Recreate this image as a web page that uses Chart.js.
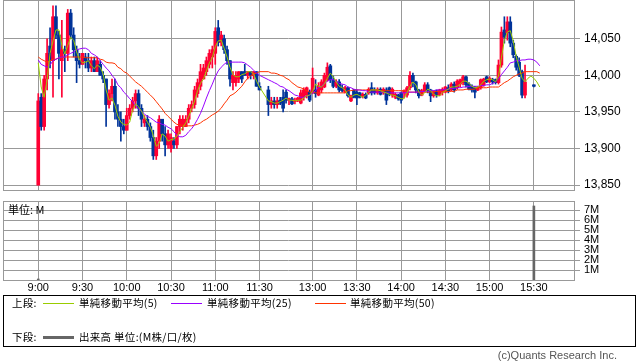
<!DOCTYPE html>
<html><head><meta charset="utf-8">
<script src="https://cdn.jsdelivr.net/npm/chart.js@4.4.1/dist/chart.umd.min.js"></script>
<style>
html,body{margin:0;padding:0;background:#fff;}
#wrap{position:relative;width:638px;height:362px;overflow:hidden;}
canvas{position:absolute;left:0;top:0;}
.t{position:absolute;white-space:nowrap;font-family:"Noto Sans CJK JP",sans-serif;font-size:10.5px;letter-spacing:0.3px;line-height:12px;color:#000;}
.ln{position:absolute;height:0;width:31px;border-top-style:solid;border-top-width:1px;}
#legend{position:absolute;left:3px;top:295px;width:633px;height:52px;border:1px solid #000;box-sizing:border-box;}
#copy{position:absolute;right:21px;top:349px;font-family:"Liberation Sans",Arial,sans-serif;font-size:11px;line-height:13px;color:#555;white-space:nowrap;}
</style>
</head><body>
<div id="wrap">
<canvas id="c1" width="638" height="362"></canvas>
<canvas id="c2" width="638" height="362"></canvas>
<div class="t" style="left:8px;top:203px;font-size:11px;letter-spacing:0;line-height:13px">単位: M</div>
<div id="legend"></div>
<div class="t" style="left:12px;top:297px">上段:</div>
<div class="ln" style="left:43px;top:303px;border-top-color:#99cc00"></div>
<div class="t" style="left:79px;top:297px">単純移動平均(5)</div>
<div class="ln" style="left:171px;top:303px;border-top-color:#9900ff"></div>
<div class="t" style="left:207px;top:297px">単純移動平均(25)</div>
<div class="ln" style="left:315px;top:303px;border-top-color:#ff3300"></div>
<div class="t" style="left:350px;top:297px">単純移動平均(50)</div>
<div class="t" style="left:12px;top:331px">下段:</div>
<div class="ln" style="left:43px;top:336px;border-top-width:3px;border-top-color:#666666"></div>
<div class="t" style="left:79px;top:331px">出来高 単位:(M株/口/枚)</div>
<div id="copy">(c)Quants Research Inc.</div>
</div>
<script>
// ---- data ----
const times = [
'9:00','9:02','9:04','9:06','9:08','9:10','9:12','9:14','9:16','9:18','9:20','9:22','9:24','9:26','9:28',
'9:30','9:32','9:34','9:36','9:38','9:40','9:42','9:44','9:46','9:48','9:50','9:52','9:54','9:56','9:58',
'10:00','10:02','10:04','10:06','10:08','10:10','10:12','10:14','10:16','10:18','10:20','10:22','10:24','10:26','10:28',
'10:30','10:32','10:34','10:36','10:38','10:40','10:42','10:44','10:46','10:48','10:50','10:52','10:54','10:56','10:58',
'11:00','11:02','11:04','11:06','11:08','11:10','11:12','11:14','11:16','11:18','11:20','11:22','11:24','11:26','11:28',
'11:30',
'12:30','12:32','12:34','12:36','12:38','12:40','12:42','12:44','12:46','12:48','12:50','12:52','12:54','12:56','12:58',
'13:00','13:02','13:04','13:06','13:08','13:10','13:12','13:14','13:16','13:18','13:20','13:22','13:24','13:26','13:28',
'13:30','13:32','13:34','13:36','13:38','13:40','13:42','13:44','13:46','13:48','13:50','13:52','13:54','13:56','13:58',
'14:00','14:02','14:04','14:06','14:08','14:10','14:12','14:14','14:16','14:18','14:20','14:22','14:24','14:26','14:28',
'14:30','14:32','14:34','14:36','14:38','14:40','14:42','14:44','14:46','14:48','14:50','14:52','14:54','14:56','14:58',
'15:00','15:02','15:04','15:06','15:08','15:10','15:12','15:14','15:16','15:18','15:20','15:22','15:24','15:26','15:28',
'15:30','15:32','15:34'];

const openP = [
13850,13970,13930,13995,14040,14020,14080,14055,14020,14035,14030,14085,14055,14035,14020,
14015,14025,14020,14010,14020,14005,14015,14000,13995,13960,13975,13985,13950,13940,13930,
13925,13945,13955,13965,13975,13955,13935,13940,13930,13915,13890,13910,13940,13920,13905,
13900,13910,13905,13930,13930,13930,13940,13955,13960,13975,13985,13995,14005,14015,14025,
14030,14065,14045,14050,14035,14020,13990,13990,13995,14005,14005,14000,14005,14000,14005,
13985,
13980,13960,13965,13960,13966,13970,13977,13966,13968,13964,13966,13962,13970,13973,13977,
13976,13980,13973,13980,13984,13994,14013,13994,13985,13991,13983,13977,13983,13965,13980,
13977,13976,13972,13974,13976,13983,13980,13976,13981,13976,13980,13983,13973,13970,13973,
13976,13976,13973,13983,14000,13991,13980,13973,13979,13987,13980,13972,13979,13973,13977,
13977,13983,13980,13988,13983,13988,13990,13998,13988,13985,13983,13980,13983,13987,13998,
13991,13994,13994,13990,14014,14062,14058,14073,14044,14026,14018,14005,13973,null,null,
13987,null,null];

const highP = [
13975,13975,14000,14050,14065,14095,14095,14060,14075,14040,14090,14090,14065,14040,14030,
14030,14030,14030,14025,14025,14025,14020,14005,13995,13980,13995,13995,13960,13950,13940,
13955,13960,13970,13980,13980,13960,13945,13945,13935,13925,13915,13945,13940,13930,13925,
13920,13915,13930,13945,13945,13945,13960,13965,13985,13995,14015,14015,14025,14035,14040,
14065,14075,14060,14055,14040,14020,14005,14005,14005,14005,14015,14005,14005,14005,14005,
13990,
13985,13970,13970,13970,13970,13980,13980,13969,13970,13969,13970,13980,13983,13984,13980,
14010,13994,13990,13994,14003,14017,14015,13999,13994,13994,13987,13985,13984,13973,13981,
13980,13977,13976,13976,13983,13990,13983,13983,13983,13983,13983,13984,13983,13976,13974,
13977,13980,13985,14005,14003,13992,13981,13981,13990,13990,13981,13979,13980,13981,13983,
13985,13987,13990,13991,13994,13995,14000,13999,13990,13987,13985,13985,13995,13996,13999,
13998,13996,13995,14021,14066,14080,14080,14080,14048,14028,14024,14007,14014,null,null,
13987,null,null];

const lowP = [
13850,13925,13925,13980,14010,13970,14050,13995,13970,14005,14020,14050,14025,13990,14010,
14015,14010,14005,14005,14005,14005,14000,13990,13930,13955,13965,13940,13930,13910,13920,
13925,13940,13950,13955,13945,13930,13930,13925,13910,13885,13885,13900,13910,13890,13900,
13895,13900,13900,13920,13925,13930,13935,13950,13955,13970,13980,13995,14000,14010,14010,
14015,14040,14040,14030,14015,13985,13980,13985,13990,13990,14000,13995,13995,13995,13985,
13980,
13945,13955,13955,13955,13960,13950,13962,13960,13960,13961,13964,13961,13966,13969,13964,
13975,13970,13972,13976,13983,13992,13990,13983,13983,13977,13977,13976,13970,13964,13969,
13960,13969,13969,13968,13974,13973,13974,13974,13973,13974,13960,13972,13970,13968,13966,
13962,13969,13970,13980,13984,13976,13969,13972,13977,13976,13964,13970,13970,13972,13973,
13976,13976,13979,13977,13981,13984,13987,13984,13980,13977,13969,13979,13981,13985,13990,
13990,13988,13988,13988,14011,14044,14048,14039,14024,14007,13998,13969,13969,null,null,
13984,null,null];

const closeP = [
13965,13930,13995,14030,14020,14080,14055,14030,14035,14030,14085,14055,14035,14020,14015,
14030,14020,14010,14020,14005,14020,14000,13995,13960,13975,13985,13950,13940,13930,13925,
13945,13955,13965,13975,13955,13940,13940,13930,13915,13890,13910,13940,13920,13905,13920,
13915,13905,13930,13940,13940,13940,13955,13960,13980,13990,14005,14010,14020,14030,14035,
14060,14045,14055,14035,14020,13995,14000,14000,14005,13995,14000,14005,14000,14005,13985,
13980,
13960,13965,13960,13965,13962,13955,13966,13968,13961,13966,13969,13976,13980,13983,13966,
13996,13975,13985,13991,14000,14011,13994,13985,13991,13980,13979,13983,13972,13972,13970,
13969,13970,13974,13969,13981,13976,13976,13981,13974,13981,13966,13974,13981,13974,13968,
13966,13979,13983,14000,13991,13980,13972,13979,13987,13979,13972,13977,13973,13980,13981,
13984,13979,13988,13980,13992,13994,13998,13987,13981,13980,13977,13984,13994,13995,13991,
13996,13991,13990,14014,14059,14052,14073,14044,14028,14011,14000,13973,13991,null,null,
13985,null,null];

const ma5 = [
14017,13984,13970,13994,14030,14047,14062,14062,14041,14029,14041,14052,14048,14032,14021,
14017,14018,14020,14013,14009,14014,14011,14002,13980,13966,13969,13959,13944,13936,13933,
13932,13936,13953,13961,13957,13951,13943,13936,13929,13918,13903,13907,13920,13917,13910,
13912,13913,13917,13923,13929,13935,13944,13954,13965,13979,13989,13995,14006,14017,14024,
14039,14047,14048,14037,14025,14011,14001,13998,13998,14001,14002,14005,14005,14002,13992,
13984,
13965,13964,13962,13962,13964,13966,13969,13966,13966,13965,13966,13966,13969,13972,13973,
13978,13988,13985,13984,13988,13996,14003,13998,13991,13985,13983,13980,13973,13970,13973,
13974,13972,13970,13973,13977,13980,13980,13980,13979,13977,13976,13974,13973,13972,13970,
13968,13968,13976,13985,13991,13987,13977,13973,13976,13981,13979,13974,13972,13972,13976,
13979,13981,13984,13984,13985,13988,13992,13992,13989,13985,13983,13984,13987,13992,13994,
13995,13994,13991,13999,14024,14048,14059,14061,14047,14026,14011,13996,13991,13996,13999,
13996,13991,13984];

const ma25 = [
14021,14015,14013,14011,14014,14020,14022,14024,14025,14025,14028,14030,14032,14035,14036,
14037,14037,14035,14030,14028,14025,14020,14015,14010,14006,14000,13995,13987,13983,13977,
13973,13968,13964,13958,13954,13951,13947,13944,13942,13939,13936,13935,13933,13932,13929,
13927,13923,13918,13916,13916,13918,13923,13927,13933,13940,13948,13958,13969,13979,13988,
13998,14006,14011,14015,14018,14018,14018,14018,14018,14018,14017,14014,14011,14007,14003,
14000,
13994,13992,13990,13988,13985,13984,13981,13979,13976,13973,13972,13970,13970,13972,13973,
13976,13979,13983,13985,13989,13992,13994,13994,13992,13989,13988,13987,13984,13983,13981,
13980,13980,13979,13979,13978,13977,13977,13977,13977,13977,13976,13976,13976,13976,13976,
13976,13976,13977,13977,13977,13977,13977,13978,13978,13978,13979,13979,13980,13980,13980,
13981,13981,13982,13982,13983,13983,13984,13984,13985,13985,13985,13985,13986,13986,13987,
13987,13989,13991,13995,14001,14006,14011,14017,14018,14020,14020,14021,14021,14022,14022,
14021,14018,14013];

const ma50 = [
14025,14022,14020,14018,14020,14022,14022,14024,14024,14025,14025,14025,14025,14025,14025,
14025,14024,14024,14024,14024,14024,14022,14021,14018,14017,14017,14016,14011,14009,14005,
14003,13999,13995,13991,13988,13985,13981,13977,13973,13969,13964,13959,13954,13948,13944,
13940,13936,13933,13932,13932,13931,13931,13931,13932,13933,13935,13938,13940,13943,13946,
13948,13951,13955,13961,13966,13972,13974,13977,13981,13985,13991,13996,13999,14002,14003,
14005,
14005,14003,14003,14002,14000,13999,13996,13994,13990,13987,13984,13983,13981,13979,13977,
13977,13976,13976,13976,13976,13976,13976,13976,13976,13976,13976,13976,13979,13979,13980,
13980,13980,13980,13980,13980,13980,13980,13980,13979,13979,13979,13979,13979,13979,13979,
13979,13979,13977,13977,13977,13977,13977,13977,13977,13977,13977,13978,13978,13978,13978,
13978,13978,13978,13978,13980,13980,13980,13981,13981,13981,13981,13983,13983,13983,13983,
13984,13984,13984,13984,13987,13990,13992,13995,13998,14000,14002,14003,14005,14005,14005,
14005,14005,14003];

const volTimes = ['9:00','15:30'];
const volValues = [0.1, 7.4];

const xTickLabels = ['9:00','9:30','10:00','10:30','11:00','11:30','13:00','13:30','14:00','14:30','15:00','15:30'];
const priceTicks = [13850,13900,13950,14000,14050];
const volTicks = [1,2,3,4,5,6,7];
const volTickLabels = ['1M','2M','3M','4M','5M','6M','7M'];

// ---- styles ----
const UP='#ff0033', DOWN='#003399', C5='#99cc00', C25='#9900ff', C50='#ff3300', VOLC='#666666', GRID='#999999';
const X_MIN=-23.9, X_MAX=363.2;

// time label -> axis minute position (lunch break 11:30-12:30 shown as a 6-minute gap)
function toAxis(s){const p=s.split(':');let v=(+p[0])*60+(+p[1])-540;if(v>=210)v=v-54;return v;}

const wickData=[], bodyData=[];
for(let i=0;i<times.length;i++){
  if(openP[i]===null) continue;
  const x=toAxis(times[i]); const up=closeP[i]>=openP[i];
  wickData.push({x:x,y:[lowP[i],highP[i]],up:up});
  bodyData.push({x:x,y:[openP[i],closeP[i]],up:up});
}
const line=(arr)=>times.map((t,i)=>({x:toAxis(t),y:arr[i]}));

const framePlugin={id:'frame',beforeDatasetsDraw(chart){const a=chart.chartArea,c=chart.ctx;c.save();c.strokeStyle=GRID;c.lineWidth=1;c.strokeRect(Math.round(a.left)+0.5,Math.round(a.top)+0.5,Math.round(a.right-a.left),Math.round(a.bottom-a.top));c.restore();}};

const xTicks=()=>xTickLabels.map(t=>({value:toAxis(t)}));
const FAM='"Liberation Sans", Arial, sans-serif';

new Chart(document.getElementById('c1'),{
  type:'bar',
  data:{datasets:[
    {type:'line',data:line(ma5),borderColor:C5,borderWidth:1,pointRadius:0,tension:0,order:0},
    {type:'line',data:line(ma25),borderColor:C25,borderWidth:1,pointRadius:0,tension:0,order:0},
    {type:'line',data:line(ma50),borderColor:C50,borderWidth:1,pointRadius:0,tension:0,order:0},
    {data:bodyData,barThickness:3,minBarLength:1,grouped:false,order:1,
     backgroundColor:(ctx)=>ctx.raw&&ctx.raw.up?UP:DOWN},
    {data:wickData,barThickness:1,minBarLength:1,grouped:false,order:2,
     backgroundColor:(ctx)=>ctx.raw&&ctx.raw.up?UP:DOWN}
  ]},
  options:{
    responsive:false,animation:false,devicePixelRatio:1,
    layout:{padding:{left:3,top:0,right:0,bottom:0}},
    plugins:{legend:{display:false},tooltip:{enabled:false}},
    scales:{
      x:{type:'linear',min:X_MIN,max:X_MAX,offset:false,
        afterBuildTicks:s=>{s.ticks=xTicks();},
        afterFit:s=>{s.height=172;s.paddingLeft=0;s.paddingRight=0;},
        ticks:{display:false},
        grid:{color:GRID,drawTicks:false,offset:false},border:{display:false}},
      y:{position:'right',min:13843.3,max:14102.9,
        afterBuildTicks:s=>{s.ticks=priceTicks.map(v=>({value:v}));},
        afterFit:s=>{s.width=64;s.paddingTop=0;s.paddingBottom=0;},
        ticks:{callback:v=>Number(v).toLocaleString('en-US'),color:'#000',font:{family:FAM,size:12},padding:4,autoSkip:false},
        grid:{color:GRID,tickLength:6,drawTicks:true},border:{display:false}}
    }
  },
  plugins:[framePlugin]
});

new Chart(document.getElementById('c2'),{
  type:'bar',
  data:{datasets:[
    {data:volTimes.map((t,i)=>({x:toAxis(t),y:volValues[i]})),barThickness:2,backgroundColor:VOLC,grouped:false}
  ]},
  options:{
    responsive:false,animation:false,devicePixelRatio:1,
    layout:{padding:{left:3,top:201,right:0,bottom:0}},
    plugins:{legend:{display:false},tooltip:{enabled:false}},
    scales:{
      x:{type:'linear',min:X_MIN,max:X_MAX,offset:false,
        afterBuildTicks:s=>{s.ticks=xTicks();},
        afterFit:s=>{s.height=82;s.paddingLeft=0;s.paddingRight=0;},
        ticks:{callback:(v,i)=>xTickLabels[i],color:'#000',font:{family:FAM,size:11},padding:1,autoSkip:false,maxRotation:0},
        grid:{color:GRID,drawTicks:false,offset:false},border:{display:false}},
      y:{position:'right',min:0,max:7.9,
        afterBuildTicks:s=>{s.ticks=volTicks.map(v=>({value:v}));},
        afterFit:s=>{s.width=64;s.paddingTop=0;s.paddingBottom=0;},
        ticks:{callback:(v,i)=>volTickLabels[i],color:'#000',font:{family:FAM,size:11,lineHeight:1},padding:4,autoSkip:false},
        grid:{color:GRID,tickLength:6,drawTicks:true},border:{display:false}}
    }
  },
  plugins:[framePlugin]
});
</script>
</body></html>
